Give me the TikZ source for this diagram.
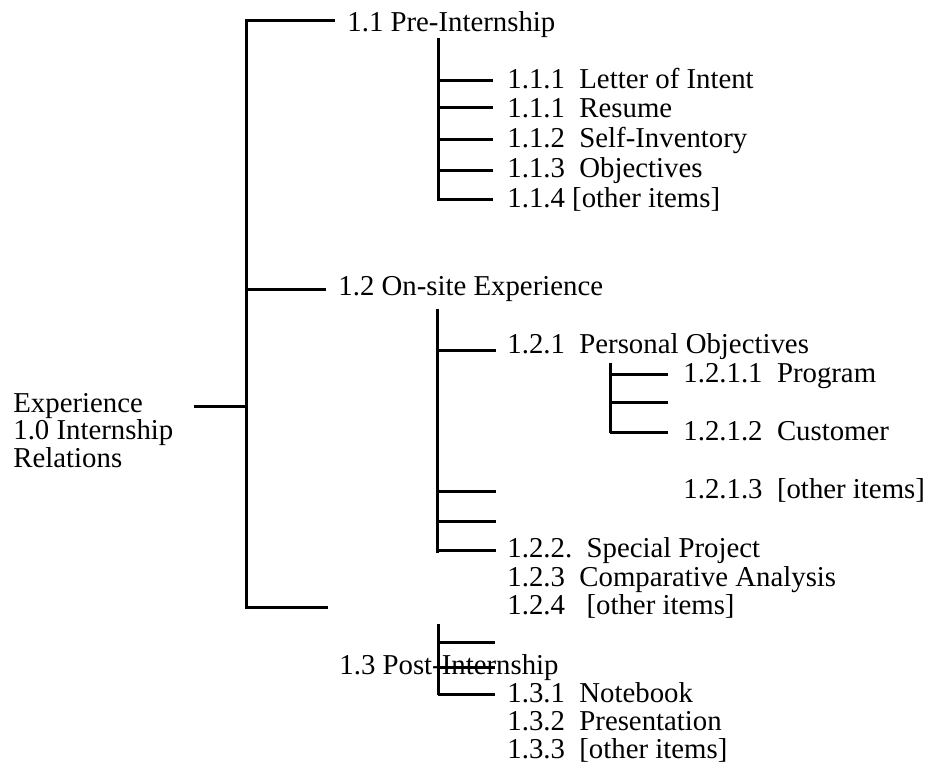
\documentclass[tikz,border=0pt]{standalone}
\usepackage{fontspec}
\setmainfont{Liberation Serif}
\begin{document}
\begin{tikzpicture}[x=0.5pt,y=-0.5pt,
  br/.style={line width=1.5pt},
  lbl/.style={anchor=base west, inner sep=0pt, font=\fontsize{14.4}{14.4}\selectfont}]
\useasboundingbox (0,0) rectangle (933,768);
% texts
\node[lbl, align=left, font=\fontsize{14.4}{13.6}\selectfont] (root) at (13,467) {Experience\\1.0 Internship\\Relations};
\node[lbl] (n11) at (347,31) {1.1 Pre-Internship};
\node[lbl] (n111) at (507,88) {1.1.1~~Letter of Intent};
\node[lbl] (n111b) at (507,117) {1.1.1~~Resume};
\node[lbl] (n112) at (507,147) {1.1.2~~Self-Inventory};
\node[lbl] (n113) at (507,177) {1.1.3~~Objectives};
\node[lbl] (n114) at (507,207) {1.1.4 [other items]};
\node[lbl] (n12) at (338,295) {1.2 On-site Experience};
\node[lbl] (n121) at (507,353) {1.2.1~~Personal Objectives};
\node[lbl] (n1211) at (683,382) {1.2.1.1~~Program};
\node[lbl] (n1212) at (683,440) {1.2.1.2~~Customer};
\node[lbl] (n1213) at (683,498) {1.2.1.3~~[other items]};
\node[lbl] (n122) at (507,557) {1.2.2.~~Special Project};
\node[lbl] (n123) at (507,586) {1.2.3~~Comparative Analysis};
\node[lbl] (n124) at (507,614) {1.2.4~~~[other items]};
\node[lbl] (n13) at (339,674) {1.3 Post-Internship};
\node[lbl] (n131) at (507,702) {1.3.1~~Notebook};
\node[lbl] (n132) at (507,730) {1.3.2~~Presentation};
\node[lbl] (n133) at (507,758) {1.3.3~~[other items]};
% main bracket
\coordinate (mT) at (246,20);
\coordinate (mB) at (246,607);
\coordinate (e11) at (335,20);
\coordinate (e12) at (326,289);
\coordinate (e13) at (328,607);
\coordinate (eroot) at (194,406);
\draw[br] (e11) -- (mT) -- (mB) -- (e13);
\draw[br] (mT|-e12) -- (e12);
\draw[br] (eroot) -- (mT|-eroot);
% 1.1 bracket
\coordinate (aT) at (438,38);
\coordinate (aB) at (438,201);
\draw[br] (aT) -- (aB);
\foreach \y in {80,107,139,170,199} \draw[br] (438,\y) -- (493,\y);
% 1.2 bracket
\coordinate (bT) at (437,309);
\coordinate (bB) at (437,553);
\draw[br] (bT) -- (bB);
\foreach \y in {350,491,521,550} \draw[br] (437,\y) -- (496,\y);
% 1.2.1 bracket
\coordinate (cT) at (610,363);
\coordinate (cB) at (610,433);
\draw[br] (cT) -- (cB);
\foreach \y in {374,402,432} \draw[br] (610,\y) -- (668,\y);
% 1.3 bracket
\coordinate (dT) at (438,624);
\coordinate (dB) at (438,695);
\draw[br] (dT) -- (dB);
\foreach \y in {642,667,694} \draw[br] (438,\y) -- (495,\y);
\end{tikzpicture}
\end{document}
